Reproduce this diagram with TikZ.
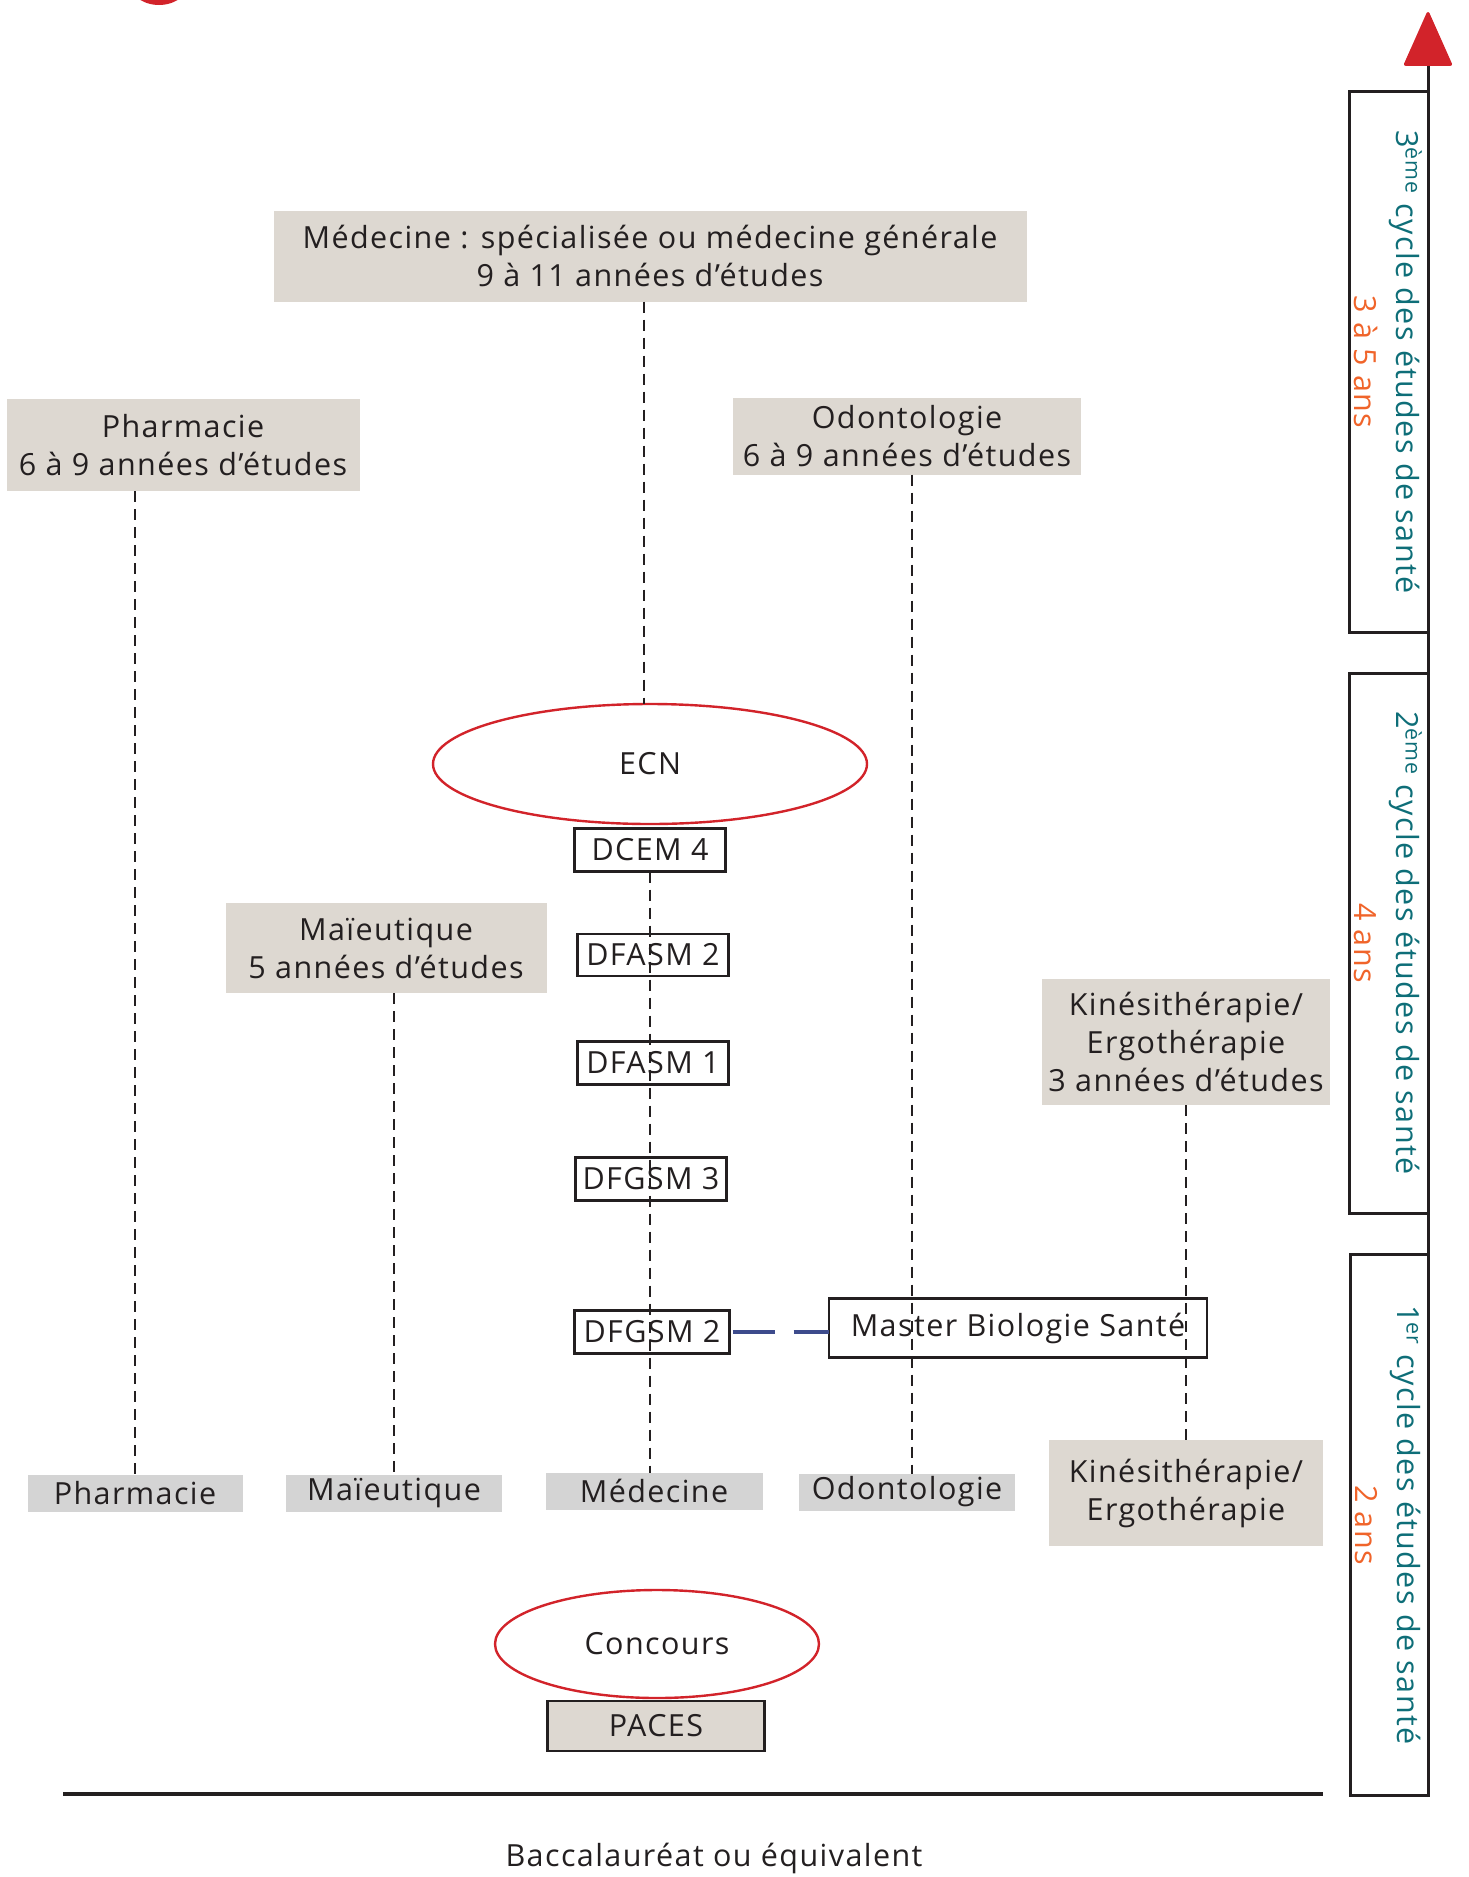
\documentclass[tikz,border=0pt]{standalone}
\usepackage{fontspec}
\setmainfont{Open Sans}[LetterSpace=4.6]
\usetikzlibrary{shapes.geometric,arrows.meta}
\definecolor{beigec}{HTML}{DDD8D1}
\definecolor{grayc}{HTML}{D4D4D4}
\definecolor{redc}{HTML}{D2232A}
\definecolor{tealc}{HTML}{0E6E78}
\definecolor{orangec}{HTML}{F0642A}
\definecolor{bluec}{HTML}{3D4B8C}
\definecolor{darkc}{HTML}{231F20}
\begin{document}
\begin{tikzpicture}[x=1pt,y=-1pt,
  every node/.style={inner sep=0pt,outer sep=0pt,align=center,font=\fontsize{30.5}{38}\selectfont,text=darkc},
  beigebox/.style={fill=beigec},
  graybox/.style={fill=grayc},
  dfbox/.style={draw=darkc,line width=2.4pt},
  oval/.style={ellipse,draw=redc,line width=2.4pt},
  vdash/.style={draw=darkc,line width=2pt,dash pattern=on 11pt off 7pt},
  cyclebox/.style={draw=darkc,line width=3pt},
  cyclelabel/.style={rotate=-90,font=\fontsize{30.5}{42}\selectfont,text=tealc}]
\useasboundingbox (0,0) rectangle (1468,1877);
% partial red shape at top-left edge
\fill[redc] (159,-22) ellipse [x radius=32pt,y radius=27pt];

% top boxes
\node[beigebox,minimum width=753pt,minimum height=91pt] (medtop) at (650,256) {Médecine : spécialisée ou médecine générale\\9 à 11 années d’études};
\node[beigebox,minimum width=353pt,minimum height=92pt] (pharmtop) at (183,445) {Pharmacie\\6 à 9 années d’études};
\node[beigebox,minimum width=348pt,minimum height=77pt] (odontop) at (907,436) {Odontologie\\6 à 9 années d’études};
\node[beigebox,minimum width=321pt,minimum height=90pt] (maieu) at (386,948) {Maïeutique\\5 années d’études};
\node[beigebox,minimum width=288pt,minimum height=126pt] (kinetop) at (1186,1042) {Kinésithérapie/\\Ergothérapie\\3 années d’études};

% ECN and DF boxes
\node[oval,minimum width=434pt,minimum height=120pt] (ecn) at (650,764) {ECN};
\node[dfbox,minimum width=151pt,minimum height=43pt] (dcem4) at (650,850) {DCEM 4};
\node[dfbox,minimum width=151pt,minimum height=42pt] (dfasm2) at (653,955) {DFASM 2};
\node[dfbox,minimum width=151pt,minimum height=43pt] (dfasm1) at (653,1063) {DFASM 1};
\node[dfbox,minimum width=151pt,minimum height=43pt] (dfgsm3) at (651,1179) {DFGSM 3};
\node[dfbox,minimum width=155pt,minimum height=43pt] (dfgsm2) at (652,1332) {DFGSM 2};
\node[dfbox,minimum width=378pt,minimum height=59pt] (master) at (1018,1328) {Master Biologie Santé};

% bottom row
\node[graybox,minimum width=215pt,minimum height=37pt] (pharmbot) at (135,1493) {Pharmacie};
\node[graybox,minimum width=216pt,minimum height=37pt] (maieubot) at (394,1493) {Maïeutique};
\node[graybox,minimum width=217pt,minimum height=37pt] (medbot) at (654,1491) {Médecine};
\node[graybox,minimum width=216pt,minimum height=37pt] (odonbot) at (907,1492) {Odontologie};
\node[beigebox,minimum width=274pt,minimum height=106pt] (kinebot) at (1186,1493) {Kinésithérapie/\\Ergothérapie};

% concours / paces
\node[oval,minimum width=324pt,minimum height=108pt] (concours) at (657,1644) {Concours};
\node[beigebox,draw=darkc,line width=2.4pt,minimum width=217pt,minimum height=50pt] (paces) at (656,1726) {PACES};

% baseline and bac
\coordinate (baseL) at (63,1794);
\coordinate (baseR) at (1323,1794);
\draw[darkc,line width=3.5pt] (baseL) -- (baseR);
\node (bac) at (714,1858) {Baccalauréat ou équivalent};

% dashed connectors
\draw[vdash] ([xshift=-6pt]medtop.south) -- ([xshift=-6pt]ecn.north);
\draw[vdash] (pharmbot.north |- pharmtop.south) -- (pharmbot.north);
\draw[vdash] (maieubot.north |- maieu.south) -- (maieubot.north);
\draw[vdash] ([xshift=5pt]odontop.south) -- ([xshift=5pt]odontop.south |- odonbot.north);
\draw[vdash] (kinetop.south) -- (kinebot.north);
\draw[vdash] (dcem4.south) -- (dcem4.south |- medbot.north);
\draw[bluec,line width=4.5pt,dash pattern=on 42pt off 19pt] ([xshift=3pt]dfgsm2.east) -- (dfgsm2.east -| master.west);

% right axis
\coordinate (axisbot) at (1428,1797);
\coordinate (axistop) at (1428,12);
\draw[darkc,line width=3pt,-{Triangle[width=49pt,length=56pt,color=redc,line join=round]}] (axisbot) -- (axistop);

% cycle boxes
\draw[cyclebox] (1428,91) -- (1349,91) -- (1349,632) -- (1428,632);
\draw[cyclebox] (1428,673) -- (1349,673) -- (1349,1213) -- (1428,1213);
\draw[cyclebox] (1428,1254) -- (1350,1254) -- (1350,1795) -- (1428,1795);

\node[cyclelabel] (c3) at (1388,362) {3\textsuperscript{ème} cycle des études de santé\\\textcolor{orangec}{3 à 5 ans}};
\node[cyclelabel] (c2) at (1388,943) {2\textsuperscript{ème} cycle des études de santé\\\textcolor{orangec}{4 ans}};
\node[cyclelabel] (c1) at (1388,1525) {1\textsuperscript{er} cycle des études de santé\\\textcolor{orangec}{2 ans}};
\end{tikzpicture}
\end{document}
